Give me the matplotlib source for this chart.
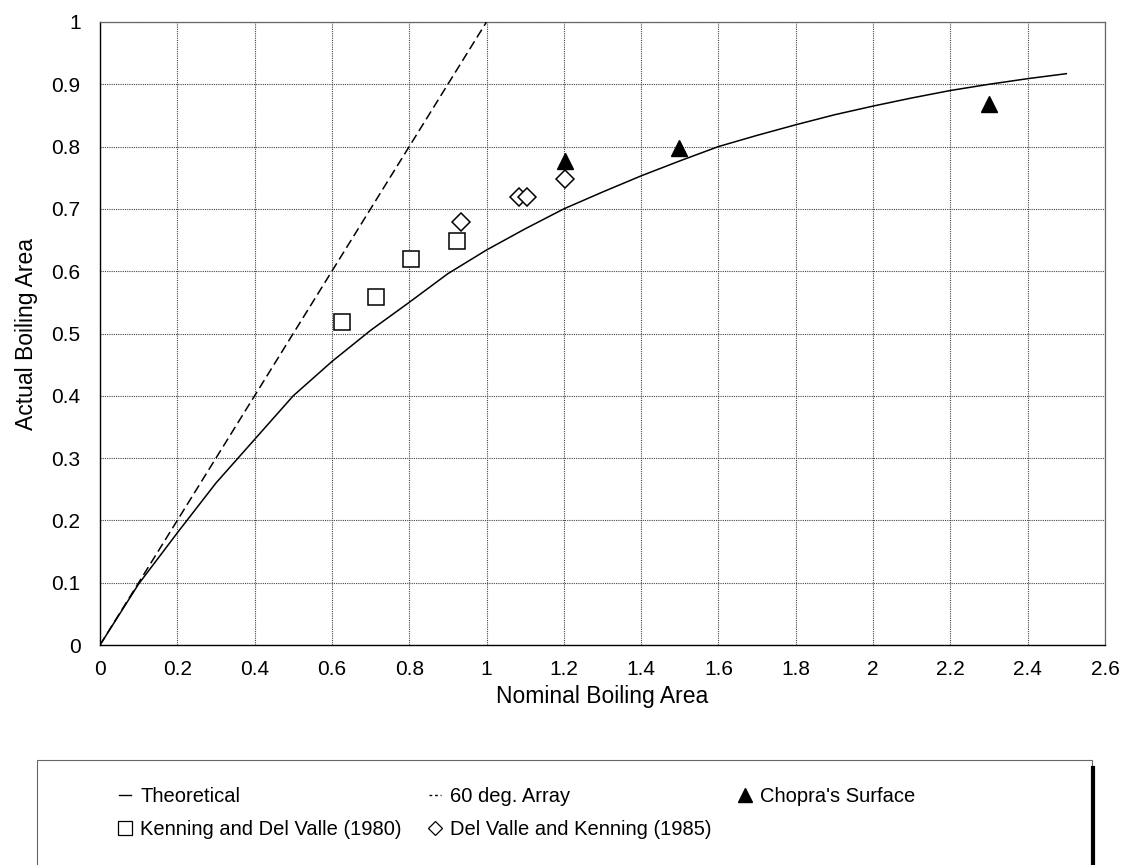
import matplotlib
matplotlib.use("Agg")
import matplotlib.pyplot as plt
from matplotlib.lines import Line2D
from matplotlib.patches import Rectangle

plt.rcParams['font.family'] = ['Liberation Sans', 'DejaVu Sans']

# theoretical curve
theo_x = [0, 0.1, 0.2, 0.3, 0.4, 0.5, 0.6, 0.7, 0.8, 0.9, 1.0, 1.1, 1.2, 1.3,
          1.4, 1.5, 1.6, 1.7, 1.8, 1.9, 2.0, 2.1, 2.2, 2.3, 2.4, 2.5]
theo_y = [0, 0.098, 0.18, 0.26, 0.33, 0.40, 0.455, 0.505, 0.55, 0.596, 0.634,
          0.668, 0.70, 0.727, 0.753, 0.777, 0.80, 0.818, 0.835, 0.851, 0.865,
          0.878, 0.89, 0.90, 0.909, 0.917]

# 60 deg. array
arr_x = [0, 1.0]
arr_y = [0, 1.0]

# Kenning and Del Valle (1980)
kdv_x = [0.626, 0.715, 0.804, 0.924]
kdv_y = [0.519, 0.559, 0.619, 0.649]

# Del Valle and Kenning (1985)
dvk_x = [0.934, 1.085, 1.104, 1.202]
dvk_y = [0.679, 0.719, 0.719, 0.748]

# Chopra's surface
chop_x = [1.202, 1.498, 2.30]
chop_y = [0.777, 0.798, 0.869]

xticks = [0, 0.2, 0.4, 0.6, 0.8, 1, 1.2, 1.4, 1.6, 1.8, 2, 2.2, 2.4, 2.6]
xlabels = ['0', '0.2', '0.4', '0.6', '0.8', '1', '1.2', '1.4', '1.6', '1.8',
           '2', '2.2', '2.4', '2.6']
yticks = [0, 0.1, 0.2, 0.3, 0.4, 0.5, 0.6, 0.7, 0.8, 0.9, 1]
ylabels = ['0', '0.1', '0.2', '0.3', '0.4', '0.5', '0.6', '0.7', '0.8', '0.9', '1']

fig = plt.figure(figsize=(11.26, 8.65), dpi=100)
ax = fig.add_axes([0.0888, 0.2543, 0.8925, 0.7203])

ax.plot(theo_x, theo_y, color='black', lw=1.1, zorder=3)
ax.plot(arr_x, arr_y, color='black', lw=1.1, linestyle=(0, (6, 3)), zorder=3)
ax.plot(kdv_x, kdv_y, linestyle='none', marker='s', markersize=12,
        markerfacecolor='white', markeredgecolor='black', markeredgewidth=1.1, zorder=4)
ax.plot(dvk_x, dvk_y, linestyle='none', marker='D', markersize=9,
        markerfacecolor='white', markeredgecolor='black', markeredgewidth=1.1, zorder=4)
ax.plot(chop_x, chop_y, linestyle='none', marker='^', markersize=12,
        color='black', zorder=4)

ax.set_xlim(0, 2.6)
ax.set_ylim(0, 1)
ax.set_xticks(xticks)
ax.set_xticklabels(xlabels)
ax.set_yticks(yticks)
ax.set_yticklabels(ylabels)
ax.tick_params(axis='both', length=0, labelsize=15)
ax.tick_params(axis='x', pad=11)
ax.tick_params(axis='y', pad=14)
ax.grid(True, color='#444444', linestyle=(0, (1, 1)), linewidth=0.8)
ax.set_axisbelow(True)
for side in ['top', 'right']:
    ax.spines[side].set_color('#666666')
    ax.spines[side].set_linewidth(0.9)
for side in ['left', 'bottom']:
    ax.spines[side].set_color('black')
    ax.spines[side].set_linewidth(1.0)

ax.set_xlabel('Nominal Boiling Area', fontsize=16.5, labelpad=4)
ax.set_ylabel('Actual Boiling Area', fontsize=16.5, labelpad=10)

# legend box
fig.patches.append(Rectangle((37 / 1126, -0.01), (1092 - 37) / 1126, (865 - 760) / 865 + 0.01,
                             transform=fig.transFigure, facecolor='white',
                             edgecolor='#666666', linewidth=0.8))
fig.add_artist(Line2D([1093 / 1126, 1093 / 1126], [0, 1 - 768 / 865],
                      transform=fig.transFigure, color='black', linewidth=3))

handles = [
    Line2D([], [], color='black', lw=1.0),
    Line2D([], [], linestyle='none', marker='s', markersize=10,
           markerfacecolor='white', markeredgecolor='black', markeredgewidth=0.9),
    Line2D([], [], color='black', lw=1.0, linestyle=(0, (2, 2))),
    Line2D([], [], linestyle='none', marker='D', markersize=7.5,
           markerfacecolor='white', markeredgecolor='black', markeredgewidth=0.9),
    Line2D([], [], linestyle='none', marker='^', markersize=10, color='black'),
]
names = ['Theoretical', 'Kenning and Del Valle (1980)', '60 deg. Array',
         'Del Valle and Kenning (1985)', "Chopra's Surface"]
fig.legend(handles, names, ncol=3, loc='upper left',
           bbox_to_anchor=(113 / 1126, 1 - 781 / 865), frameon=False,
           fontsize=14.5, handlelength=0.6, handletextpad=0.45,
           columnspacing=1.35, labelspacing=0.7, borderaxespad=0, borderpad=0.3)

fig.savefig('out.png', dpi=100)
